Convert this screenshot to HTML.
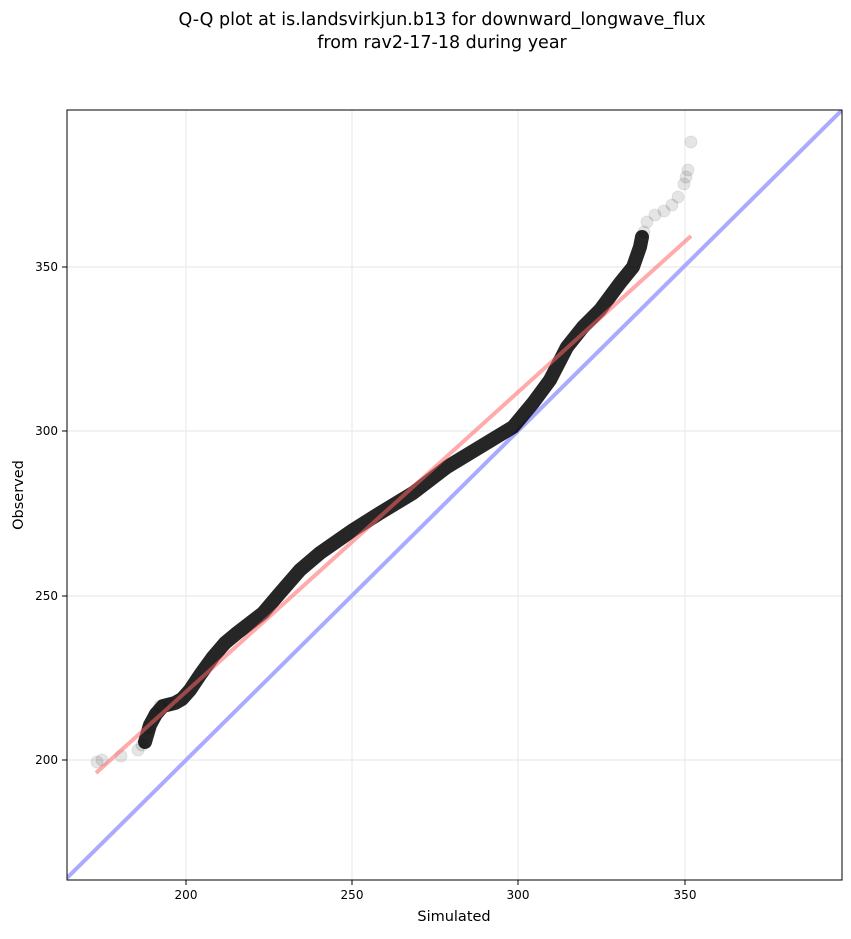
<!DOCTYPE html>
<html><head><style>
body{margin:0;background:#fff;font-family:"Liberation Sans","DejaVu Sans",sans-serif;}
</style></head><body>
<svg width="851" height="934" xmlns="http://www.w3.org/2000/svg" font-family="'DejaVu Sans','Liberation Sans',sans-serif">
<rect width="851" height="934" fill="#fff"/>
<text x="442" y="25" font-size="17.5" text-anchor="middle">Q-Q plot at is.landsvirkjun.b13 for downward_longwave_flux</text>
<text x="442" y="48" font-size="17.5" text-anchor="middle">from rav2-17-18 during year</text>
<g stroke="#ebebeb" stroke-width="1.2">
<line x1="186" y1="110" x2="186" y2="880"/><line x1="352" y1="110" x2="352" y2="880"/>
<line x1="518" y1="110" x2="518" y2="880"/><line x1="685" y1="110" x2="685" y2="880"/>
<line x1="67" y1="267" x2="842" y2="267"/><line x1="67" y1="431" x2="842" y2="431"/>
<line x1="67" y1="596" x2="842" y2="596"/><line x1="67" y1="760" x2="842" y2="760"/>
</g>
<clipPath id="c"><rect x="67" y="110" width="775" height="770"/></clipPath>
<g clip-path="url(#c)">
<line x1="67" y1="878" x2="842" y2="110" stroke="#aaaaff" stroke-width="4"/>
<g fill="#000" fill-opacity="0.1" stroke="#000" stroke-opacity="0.08">
<circle cx="97" cy="762" r="6"/><circle cx="102" cy="760" r="6"/><circle cx="121" cy="756" r="6"/>
<circle cx="138" cy="750" r="6"/><circle cx="142" cy="745" r="6"/><circle cx="148" cy="728" r="6"/>
<circle cx="155" cy="714" r="6"/><circle cx="160" cy="706" r="6"/><circle cx="170" cy="704" r="6"/>
<circle cx="664" cy="211" r="6"/><circle cx="672" cy="205" r="6"/><circle cx="678" cy="197" r="6"/>
<circle cx="684" cy="184" r="6"/><circle cx="686" cy="177" r="6"/><circle cx="688" cy="170" r="6"/><circle cx="691" cy="142" r="6"/>
<circle cx="655" cy="215" r="6"/><circle cx="647" cy="222" r="6"/><circle cx="644" cy="232" r="6"/>
</g>
<path d="M145,742 L150,725 L156,714 L163,706 L175,703 L182,699 L190,690 L200,675 L213,657 L225,643 L237,633 L250,623 L263,613 L280,593 L300,570 L320,553 L353,530 L380,513 L413,493 L447,467 L480,447 L513,427 L533,403 L550,380 L567,347 L583,327 L600,310 L620,283 L633,267 L640,247 L642,237" fill="none" stroke="#000" stroke-opacity="0.85" stroke-width="14" stroke-linejoin="round" stroke-linecap="round"/>
<line x1="96" y1="773" x2="691" y2="236" stroke="#ff6666" stroke-opacity="0.55" stroke-width="4"/>
</g>
<rect x="67" y="110" width="775" height="770" fill="none" stroke="#000" stroke-width="1"/>
<g stroke="#000"><line x1="186" y1="880" x2="186" y2="885"/><line x1="352" y1="880" x2="352" y2="885"/><line x1="518" y1="880" x2="518" y2="885"/><line x1="685" y1="880" x2="685" y2="885"/>
<line x1="62" y1="267" x2="67" y2="267"/><line x1="62" y1="431" x2="67" y2="431"/><line x1="62" y1="596" x2="67" y2="596"/><line x1="62" y1="760" x2="67" y2="760"/></g>
<g font-size="12" text-anchor="middle"><text x="186" y="899">200</text><text x="352" y="899">250</text><text x="518" y="899">300</text><text x="685" y="899">350</text></g>
<g font-size="12" text-anchor="end"><text x="58" y="271">350</text><text x="58" y="435">300</text><text x="58" y="600">250</text><text x="58" y="764">200</text></g>
<text x="454" y="921" font-size="14.5" text-anchor="middle">Simulated</text>
<text x="23" y="495" font-size="14.5" text-anchor="middle" transform="rotate(-90 23 495)">Observed</text>
</svg>
</body></html>
